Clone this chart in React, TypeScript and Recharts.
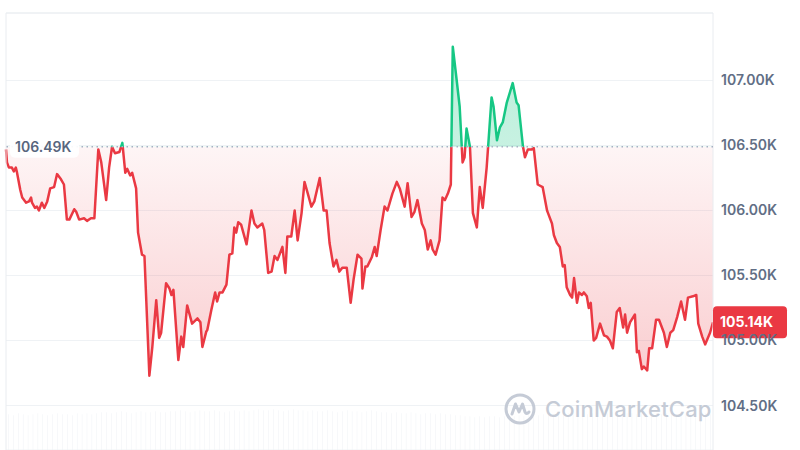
import React from 'react'
import {
  ComposedChart, Area, Bar, XAxis, YAxis, CartesianGrid, ReferenceLine,
} from 'recharts'

// minutes since start of the 24h window
const TIMES = [
  0, 2, 6, 12, 16, 20, 22, 29, 33, 41, 47, 51, 53, 59, 63, 67, 73, 78, 84, 90,
  98, 104, 112, 118, 124, 129, 139, 143, 149, 159, 165, 173, 180, 188, 194, 204, 210, 216, 222, 231,
  237, 243, 247, 253, 257, 265, 269, 277, 282, 292, 298, 306, 312, 316, 326, 333, 337, 341, 351, 357,
  361, 369, 379, 390, 396, 400, 408, 410, 418, 426, 430, 435, 441, 449, 455, 461, 465, 469, 473, 479,
  490, 500, 506, 512, 522, 526, 534, 541, 547, 553, 563, 569, 573, 581, 588, 594, 602, 608, 614, 622,
  628, 639, 647, 653, 659, 667, 673, 679, 685, 694, 702, 708, 716, 724, 726, 732, 736, 745, 751, 755,
  763, 771, 777, 787, 796, 802, 812, 818, 826, 832, 838, 847, 853, 859, 865, 869, 875, 883, 889, 894,
  900, 906, 910, 918, 924, 930, 934, 938, 945, 951, 959, 965, 971, 979, 989, 993, 1000, 1006, 1012, 1020,
  1032, 1040, 1044, 1053, 1057, 1063, 1071, 1075, 1083, 1093, 1102, 1104, 1112, 1116, 1122, 1128, 1134, 1138, 1142, 1149,
  1153, 1157, 1163, 1167, 1173, 1177, 1183, 1187, 1191, 1197, 1202, 1210, 1218, 1224, 1230, 1236, 1244, 1250, 1257, 1261,
  1265, 1271, 1281, 1285, 1289, 1295, 1299, 1306, 1310, 1316, 1324, 1330, 1336, 1340, 1346, 1353, 1359, 1367, 1375, 1383,
  1389, 1399, 1406, 1410, 1418, 1424, 1434, 1440,
]

// price in thousands USD
const PRICES = [
  106.47, 106.37, 106.33, 106.33, 106.30, 106.33, 106.30, 106.16, 106.10, 106.06, 106.07, 106.10, 106.06, 106.02, 106.03, 106.00, 106.06, 106.02, 106.07, 106.17,
  106.18, 106.28, 106.24, 106.20, 105.93, 105.93, 106.01, 105.99, 105.93, 105.94, 105.92, 105.94, 105.94, 106.47, 106.37, 106.08, 106.33, 106.49, 106.44, 106.45,
  106.52, 106.29, 106.32, 106.27, 106.29, 106.17, 105.83, 105.66, 105.65, 104.73, 104.95, 105.31, 105.02, 105.06, 105.44, 105.40, 105.35, 105.39, 104.85, 105.03,
  104.95, 105.27, 105.13, 105.17, 105.14, 104.95, 105.07, 105.08, 105.23, 105.37, 105.30, 105.37, 105.37, 105.43, 105.66, 105.67, 105.87, 105.83, 105.91, 105.89,
  105.74, 106.00, 105.90, 105.87, 105.90, 105.85, 105.52, 105.53, 105.65, 105.62, 105.72, 105.52, 105.80, 105.80, 106.00, 105.77, 105.98, 106.22, 106.14, 106.03,
  106.07, 106.25, 106.00, 106.00, 105.75, 105.57, 105.62, 105.53, 105.56, 105.56, 105.29, 105.47, 105.66, 105.63, 105.40, 105.57, 105.57, 105.64, 105.72, 105.65,
  105.85, 106.03, 106.00, 106.13, 106.22, 106.17, 106.03, 106.21, 105.95, 105.99, 106.08, 105.90, 105.85, 105.70, 105.77, 105.70, 105.66, 105.77, 106.10, 106.08,
  106.13, 106.20, 107.26, 107.00, 106.80, 106.37, 106.41, 106.63, 106.49, 105.98, 105.87, 106.18, 106.02, 106.33, 106.87, 106.80, 106.54, 106.64, 106.68, 106.83,
  106.98, 106.83, 106.81, 106.49, 106.41, 106.47, 106.47, 106.48, 106.20, 106.18, 106.00, 105.98, 105.90, 105.81, 105.75, 105.72, 105.57, 105.58, 105.41, 105.35,
  105.33, 105.48, 105.29, 105.37, 105.35, 105.37, 105.34, 105.25, 105.29, 105.00, 105.02, 105.13, 105.04, 105.03, 105.00, 104.94, 105.22, 105.25, 105.10, 105.20,
  105.06, 105.14, 105.20, 104.91, 104.92, 104.78, 104.80, 104.77, 104.94, 104.94, 105.16, 105.16, 105.10, 105.06, 104.95, 105.06, 105.08, 105.18, 105.30, 105.16,
  105.33, 105.34, 105.35, 105.13, 105.03, 104.97, 105.06, 105.14,
]

// 10-minute volume buckets (M USD)
const VOLUMES = [
  36, 35, 37, 36, 35, 36, 37, 36, 35, 36,
  37, 36, 36, 35, 37, 36, 37, 36, 37, 38,
  38, 37, 38, 39, 38, 37, 38, 39, 38, 38,
  39, 38, 38, 39, 39, 40, 39, 38, 39, 40,
  39, 39, 40, 39, 38, 39, 40, 39, 40, 39,
  40, 41, 40, 40, 41, 40, 39, 40, 41, 40,
  40, 39, 40, 39, 39, 40, 39, 38, 39, 40,
  39, 39, 38, 39, 40, 39, 38, 38, 37, 38,
  37, 37, 38, 37, 36, 37, 37, 36, 37, 36,
  36, 35, 35, 34, 34, 33, 34, 33, 34, 34,
  33, 34, 35, 34, 35, 34, 35, 36, 35, 36,
  37, 36, 37, 36, 37, 37, 36, 37, 36, 37,
  37, 36, 37, 38, 37, 36, 37, 37, 36, 37,
  36, 37, 37, 36, 37, 37, 36, 37, 36, 37,
  37, 36, 37, 36,
]

const Y_TICKS = [104.5, 105.0, 105.5, 106.0, 106.5, 107.0]
const OPEN_PRICE = 106.49
const LAST_PRICE = 105.14

const RED = '#ea3943'
const GREEN = '#16c784'
const FONT = 'Inter, "Noto Sans", sans-serif'

const n = Math.min(TIMES.length, PRICES.length)
const rows: any[] = []
for (let i = 0; i < n; i++) rows.push({ t: TIMES[i], price: PRICES[i] })
VOLUMES.forEach((v, i) => rows.push({ t: i * 10 + 5, vol: v }))
rows.sort((a, b) => a.t - b.t)

const pMax = Math.max(...PRICES)
const pMin = Math.min(...PRICES)
const splitOff = (pMax - OPEN_PRICE) / (pMax - pMin)

function OpenLabel({ viewBox }: any) {
  const y = viewBox.y
  return (
    <g>
      <rect x={10} y={y - 11} width={69} height={22} rx={5} fill="#fff" fillOpacity={0.92} />
      <text x={15} y={y + 5} fontSize={14} fontWeight={600} fill="#58667e" fontFamily={FONT}>
        {OPEN_PRICE.toFixed(2)}K
      </text>
    </g>
  )
}

function LastLabel({ viewBox }: any) {
  const x = viewBox.x + viewBox.width
  const y = viewBox.y
  return (
    <g>
      <rect x={x} y={y - 16} width={74} height={32} rx={4} fill={RED} />
      <text x={x + 7} y={y + 5} fontSize={14} fontWeight={700} fill="#fff" fontFamily={FONT}>
        {LAST_PRICE.toFixed(2)}K
      </text>
    </g>
  )
}

function Watermark() {
  return (
    <div style={{ position: 'absolute', left: 503, top: 392, display: 'flex', alignItems: 'center', gap: 8, pointerEvents: 'none' }}>
      <svg width={34} height={34} viewBox="0 0 34 34">
        <circle cx={17} cy={17} r={14} fill="none" stroke="#c5cbd6" strokeWidth={3} />
        <path d="M9 22 L12.5 12 L16 20 L19.5 12 L22 20 Q23.5 23 26 20" fill="none" stroke="#c5cbd6" strokeWidth={3} strokeLinejoin="round" strokeLinecap="round" />
      </svg>
      <span style={{ fontFamily: FONT, fontSize: 22, fontWeight: 500, color: '#c5cbd6', letterSpacing: 0.2 }}>CoinMarketCap</span>
    </div>
  )
}

export default function App() {
  return (
    <div style={{ position: 'absolute', left: 0, top: 0, width: 800, height: 450, background: '#fff', overflow: 'hidden' }}>
      <ComposedChart width={800} height={450} data={rows} margin={{ top: 13, right: 0, left: 6, bottom: 0 }}>
        <defs>
          <linearGradient id="strokeSplit" x1="0" y1="0" x2="0" y2="1">
            <stop offset={splitOff} stopColor={GREEN} />
            <stop offset={splitOff} stopColor={RED} />
          </linearGradient>
          <linearGradient id="fillSplit" x1="0" y1="0" x2="0" y2="1">
            <stop offset={0} stopColor={GREEN} stopOpacity={0.3} />
            <stop offset={splitOff} stopColor={GREEN} stopOpacity={0.24} />
            <stop offset={splitOff} stopColor={RED} stopOpacity={0.05} />
            <stop offset={1} stopColor={RED} stopOpacity={0.25} />
          </linearGradient>
        </defs>
        <CartesianGrid vertical={false} stroke="#eff2f5" yAxisId="price" />
        <XAxis dataKey="t" type="number" domain={[0, 1440]} hide />
        <YAxis
          yAxisId="price"
          orientation="right"
          domain={[104.158, 107.519]}
          ticks={Y_TICKS}
          width={87}
          axisLine={false}
          tickLine={false}
          tickSize={0}
          tickMargin={8}
          tick={{ fontSize: 14, fontWeight: 600, fill: '#616e85', fontFamily: FONT }}
          tickFormatter={(v: number) => `${v.toFixed(2)}K`}
        />
        <YAxis yAxisId="vol" hide domain={[0, 440]} />
        <ReferenceLine yAxisId="price" y={107.519} stroke="#e9ecf0" />
        <ReferenceLine yAxisId="price" x={0} stroke="#e9ecf0" />
        <ReferenceLine yAxisId="price" x={1440} stroke="#e9ecf0" />
        <Bar yAxisId="vol" dataKey="vol" fill="#edf0f4" barSize={5} isAnimationActive={false} />
        <ReferenceLine
          yAxisId="price"
          y={OPEN_PRICE}
          stroke="#a6b0c3"
          strokeWidth={1.5}
          strokeDasharray="1.5 3.5"
          label={<OpenLabel />}
        />
        <Area
          yAxisId="price"
          type="linear"
          dataKey="price"
          baseValue={OPEN_PRICE}
          connectNulls
          stroke="url(#strokeSplit)"
          strokeWidth={2.5}
          strokeLinejoin="round"
          fill="url(#fillSplit)"
          fillOpacity={1}
          dot={false}
          activeDot={false}
          isAnimationActive={false}
        />
        <ReferenceLine yAxisId="price" y={LAST_PRICE} stroke="none" label={<LastLabel />} />
      </ComposedChart>
      <Watermark />
    </div>
  )
}
